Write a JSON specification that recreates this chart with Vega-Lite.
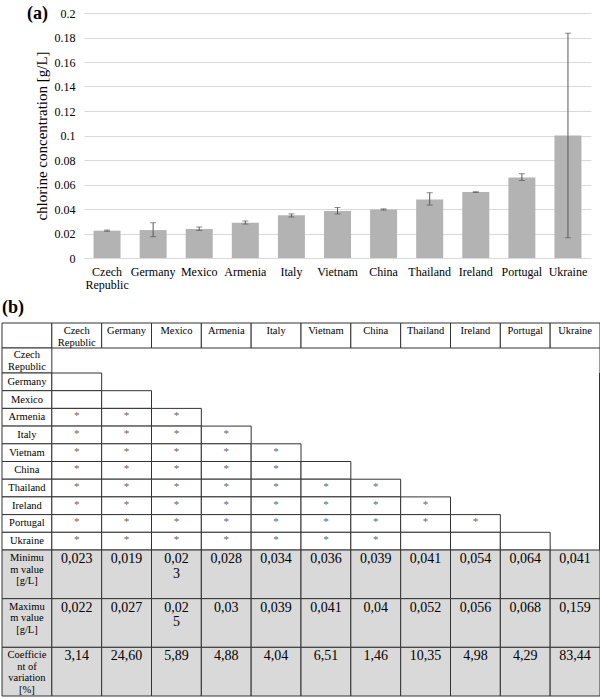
{
  "$schema": "https://vega.github.io/schema/vega-lite/v6.json",
  "padding": {"left": 1, "top": 5, "right": 1, "bottom": 1},
  "background": "#ffffff",
  "config": {
    "view": {"stroke": null},
    "font": "Liberation Serif",
    "text": {"font": "Liberation Serif"},
    "axis": {"labelFont": "Liberation Serif", "titleFont": "Liberation Serif"},
    "title": {"font": "Liberation Serif"}
  },
  "datasets": {
    "bars": [
      {"country": "Czech Republic", "concentration": 0.0223, "low": 0.0218, "high": 0.0228},
      {"country": "Germany", "concentration": 0.0228, "low": 0.0174, "high": 0.0288},
      {"country": "Mexico", "concentration": 0.0237, "low": 0.0225, "high": 0.0253},
      {"country": "Armenia", "concentration": 0.0288, "low": 0.0277, "high": 0.0302},
      {"country": "Italy", "concentration": 0.0348, "low": 0.0335, "high": 0.036},
      {"country": "Vietnam", "concentration": 0.0384, "low": 0.0359, "high": 0.0412},
      {"country": "China", "concentration": 0.0396, "low": 0.0391, "high": 0.0401},
      {"country": "Thailand", "concentration": 0.0478, "low": 0.0432, "high": 0.0533},
      {"country": "Ireland", "concentration": 0.0538, "low": 0.0535, "high": 0.0541},
      {"country": "Portugal", "concentration": 0.0658, "low": 0.0633, "high": 0.0688},
      {"country": "Ukraine", "concentration": 0.1, "low": 0.0165, "high": 0.1835}
    ],
    "header": [
      {"row": "header", "col": "label", "text": ""},
      {"row": "header", "col": "Czech Republic", "text": "Czech\nRepublic"},
      {"row": "header", "col": "Germany", "text": "Germany"},
      {"row": "header", "col": "Mexico", "text": "Mexico"},
      {"row": "header", "col": "Armenia", "text": "Armenia"},
      {"row": "header", "col": "Italy", "text": "Italy"},
      {"row": "header", "col": "Vietnam", "text": "Vietnam"},
      {"row": "header", "col": "China", "text": "China"},
      {"row": "header", "col": "Thailand", "text": "Thailand"},
      {"row": "header", "col": "Ireland", "text": "Ireland"},
      {"row": "header", "col": "Portugal", "text": "Portugal"},
      {"row": "header", "col": "Ukraine", "text": "Ukraine"}
    ],
    "czech": [
      {"row": "Czech Republic", "col": "label", "text": "Czech\nRepublic"}
    ],
    "matrix": [
      {"row": "Germany", "col": "label", "text": "Germany"},
      {"row": "Germany", "col": "Czech Republic", "text": ""},
      {"row": "Mexico", "col": "label", "text": "Mexico"},
      {"row": "Mexico", "col": "Czech Republic", "text": ""},
      {"row": "Mexico", "col": "Germany", "text": ""},
      {"row": "Armenia", "col": "label", "text": "Armenia"},
      {"row": "Armenia", "col": "Czech Republic", "text": "*"},
      {"row": "Armenia", "col": "Germany", "text": "*"},
      {"row": "Armenia", "col": "Mexico", "text": "*"},
      {"row": "Italy", "col": "label", "text": "Italy"},
      {"row": "Italy", "col": "Czech Republic", "text": "*"},
      {"row": "Italy", "col": "Germany", "text": "*"},
      {"row": "Italy", "col": "Mexico", "text": "*"},
      {"row": "Italy", "col": "Armenia", "text": "*"},
      {"row": "Vietnam", "col": "label", "text": "Vietnam"},
      {"row": "Vietnam", "col": "Czech Republic", "text": "*"},
      {"row": "Vietnam", "col": "Germany", "text": "*"},
      {"row": "Vietnam", "col": "Mexico", "text": "*"},
      {"row": "Vietnam", "col": "Armenia", "text": "*"},
      {"row": "Vietnam", "col": "Italy", "text": "*"},
      {"row": "China", "col": "label", "text": "China"},
      {"row": "China", "col": "Czech Republic", "text": "*"},
      {"row": "China", "col": "Germany", "text": "*"},
      {"row": "China", "col": "Mexico", "text": "*"},
      {"row": "China", "col": "Armenia", "text": "*"},
      {"row": "China", "col": "Italy", "text": "*"},
      {"row": "China", "col": "Vietnam", "text": ""},
      {"row": "Thailand", "col": "label", "text": "Thailand"},
      {"row": "Thailand", "col": "Czech Republic", "text": "*"},
      {"row": "Thailand", "col": "Germany", "text": "*"},
      {"row": "Thailand", "col": "Mexico", "text": "*"},
      {"row": "Thailand", "col": "Armenia", "text": "*"},
      {"row": "Thailand", "col": "Italy", "text": "*"},
      {"row": "Thailand", "col": "Vietnam", "text": "*"},
      {"row": "Thailand", "col": "China", "text": "*"},
      {"row": "Ireland", "col": "label", "text": "Ireland"},
      {"row": "Ireland", "col": "Czech Republic", "text": "*"},
      {"row": "Ireland", "col": "Germany", "text": "*"},
      {"row": "Ireland", "col": "Mexico", "text": "*"},
      {"row": "Ireland", "col": "Armenia", "text": "*"},
      {"row": "Ireland", "col": "Italy", "text": "*"},
      {"row": "Ireland", "col": "Vietnam", "text": "*"},
      {"row": "Ireland", "col": "China", "text": "*"},
      {"row": "Ireland", "col": "Thailand", "text": "*"},
      {"row": "Portugal", "col": "label", "text": "Portugal"},
      {"row": "Portugal", "col": "Czech Republic", "text": "*"},
      {"row": "Portugal", "col": "Germany", "text": "*"},
      {"row": "Portugal", "col": "Mexico", "text": "*"},
      {"row": "Portugal", "col": "Armenia", "text": "*"},
      {"row": "Portugal", "col": "Italy", "text": "*"},
      {"row": "Portugal", "col": "Vietnam", "text": "*"},
      {"row": "Portugal", "col": "China", "text": "*"},
      {"row": "Portugal", "col": "Thailand", "text": "*"},
      {"row": "Portugal", "col": "Ireland", "text": "*"},
      {"row": "Ukraine", "col": "label", "text": "Ukraine"},
      {"row": "Ukraine", "col": "Czech Republic", "text": "*"},
      {"row": "Ukraine", "col": "Germany", "text": "*"},
      {"row": "Ukraine", "col": "Mexico", "text": "*"},
      {"row": "Ukraine", "col": "Armenia", "text": "*"},
      {"row": "Ukraine", "col": "Italy", "text": "*"},
      {"row": "Ukraine", "col": "Vietnam", "text": "*"},
      {"row": "Ukraine", "col": "China", "text": "*"},
      {"row": "Ukraine", "col": "Thailand", "text": ""},
      {"row": "Ukraine", "col": "Ireland", "text": ""},
      {"row": "Ukraine", "col": "Portugal", "text": ""}
    ],
    "stats": [
      {"row": "Minimum value", "col": "label", "text": "Minimu\nm value\n[g/L]"},
      {"row": "Minimum value", "col": "Czech Republic", "text": "0,023"},
      {"row": "Minimum value", "col": "Germany", "text": "0,019"},
      {"row": "Minimum value", "col": "Mexico", "text": "0,02\n3"},
      {"row": "Minimum value", "col": "Armenia", "text": "0,028"},
      {"row": "Minimum value", "col": "Italy", "text": "0,034"},
      {"row": "Minimum value", "col": "Vietnam", "text": "0,036"},
      {"row": "Minimum value", "col": "China", "text": "0,039"},
      {"row": "Minimum value", "col": "Thailand", "text": "0,041"},
      {"row": "Minimum value", "col": "Ireland", "text": "0,054"},
      {"row": "Minimum value", "col": "Portugal", "text": "0,064"},
      {"row": "Minimum value", "col": "Ukraine", "text": "0,041"},
      {"row": "Maximum value", "col": "label", "text": "Maximu\nm value\n[g/L]"},
      {"row": "Maximum value", "col": "Czech Republic", "text": "0,022"},
      {"row": "Maximum value", "col": "Germany", "text": "0,027"},
      {"row": "Maximum value", "col": "Mexico", "text": "0,02\n5"},
      {"row": "Maximum value", "col": "Armenia", "text": "0,03"},
      {"row": "Maximum value", "col": "Italy", "text": "0,039"},
      {"row": "Maximum value", "col": "Vietnam", "text": "0,041"},
      {"row": "Maximum value", "col": "China", "text": "0,04"},
      {"row": "Maximum value", "col": "Thailand", "text": "0,052"},
      {"row": "Maximum value", "col": "Ireland", "text": "0,056"},
      {"row": "Maximum value", "col": "Portugal", "text": "0,068"},
      {"row": "Maximum value", "col": "Ukraine", "text": "0,159"},
      {"row": "Coefficient of variation", "col": "label", "text": "Coefficie\nnt of\nvariation\n[%]"},
      {"row": "Coefficient of variation", "col": "Czech Republic", "text": "3,14"},
      {"row": "Coefficient of variation", "col": "Germany", "text": "24,60"},
      {"row": "Coefficient of variation", "col": "Mexico", "text": "5,89"},
      {"row": "Coefficient of variation", "col": "Armenia", "text": "4,88"},
      {"row": "Coefficient of variation", "col": "Italy", "text": "4,04"},
      {"row": "Coefficient of variation", "col": "Vietnam", "text": "6,51"},
      {"row": "Coefficient of variation", "col": "China", "text": "1,46"},
      {"row": "Coefficient of variation", "col": "Thailand", "text": "10,35"},
      {"row": "Coefficient of variation", "col": "Ireland", "text": "4,98"},
      {"row": "Coefficient of variation", "col": "Portugal", "text": "4,29"},
      {"row": "Coefficient of variation", "col": "Ukraine", "text": "83,44"}
    ]
  },
  "resolve": {"scale": {"x": "independent", "y": "independent"}},
  "spacing": 8,
  "vconcat": [
    {
      "spacing": 0,
      "hconcat": [
        {
          "width": 25,
          "height": 10,
          "data": {"values": [{"k": 1}]},
          "mark": {"type": "point", "opacity": 0}
        },
        {
          "width": 507,
          "height": 245,
          "title": {"text": "(a)", "anchor": "start", "frame": "group", "fontSize": 18, "fontWeight": "bold", "color": "#000000", "dx": -57, "dy": 16, "offset": 0},
          "data": {"name": "bars"},
          "encoding": {
            "x": {
              "field": "country", "type": "nominal", "sort": null, "title": null,
              "scale": {"paddingInner": 0.414, "paddingOuter": 0.207},
              "axis": {"labelAngle": 0, "domain": false, "ticks": false, "labelPadding": 8, "labelFont": "Liberation Serif", "labelFontSize": 12, "labelColor": "#000000", "labelLineHeight": 13, "labelExpr": "split(datum.label, ' ')"}
            }
          },
          "layer": [
            {
              "mark": {"type": "bar", "color": "#b3b3b3"},
              "encoding": {
                "y": {
                  "field": "concentration", "type": "quantitative", "title": "chlorine concentration [g/L]",
                  "scale": {"domain": [0, 0.2]},
                  "axis": {"values": [0, 0.02, 0.04, 0.06, 0.08, 0.1, 0.12, 0.14, 0.16, 0.18, 0.2], "format": ".2~f", "labelOverlap": false, "gridColor": "#d9d9d9", "gridWidth": 1, "domain": false, "ticks": false, "labelFont": "Liberation Serif", "labelFontSize": 12, "labelColor": "#000000", "labelPadding": 9, "titleFont": "Liberation Serif", "titleFontSize": 15, "titleFontWeight": "normal", "titleColor": "#000000", "titlePadding": 5}
                }
              }
            },
            {
              "mark": {"type": "rule", "color": "#595959", "strokeWidth": 1},
              "encoding": {
                "y": {
                  "field": "low", "type": "quantitative", "title": "chlorine concentration [g/L]",
                  "axis": {"values": [0, 0.02, 0.04, 0.06, 0.08, 0.1, 0.12, 0.14, 0.16, 0.18, 0.2], "format": ".2~f", "labelOverlap": false, "gridColor": "#d9d9d9", "gridWidth": 1, "domain": false, "ticks": false, "labelFont": "Liberation Serif", "labelFontSize": 12, "labelColor": "#000000", "labelPadding": 9, "titleFont": "Liberation Serif", "titleFontSize": 15, "titleFontWeight": "normal", "titleColor": "#000000", "titlePadding": 5}
                },
                "y2": {"field": "high"}
              }
            },
            {
              "mark": {"type": "tick", "color": "#595959", "size": 6, "thickness": 1},
              "encoding": {
                "y": {
                  "field": "low", "type": "quantitative", "title": "chlorine concentration [g/L]",
                  "axis": {"values": [0, 0.02, 0.04, 0.06, 0.08, 0.1, 0.12, 0.14, 0.16, 0.18, 0.2], "format": ".2~f", "labelOverlap": false, "gridColor": "#d9d9d9", "gridWidth": 1, "domain": false, "ticks": false, "labelFont": "Liberation Serif", "labelFontSize": 12, "labelColor": "#000000", "labelPadding": 9, "titleFont": "Liberation Serif", "titleFontSize": 15, "titleFontWeight": "normal", "titleColor": "#000000", "titlePadding": 5}
                }
              }
            },
            {
              "mark": {"type": "tick", "color": "#595959", "size": 6, "thickness": 1},
              "encoding": {
                "y": {
                  "field": "high", "type": "quantitative", "title": "chlorine concentration [g/L]",
                  "axis": {"values": [0, 0.02, 0.04, 0.06, 0.08, 0.1, 0.12, 0.14, 0.16, 0.18, 0.2], "format": ".2~f", "labelOverlap": false, "gridColor": "#d9d9d9", "gridWidth": 1, "domain": false, "ticks": false, "labelFont": "Liberation Serif", "labelFontSize": 12, "labelColor": "#000000", "labelPadding": 9, "titleFont": "Liberation Serif", "titleFontSize": 15, "titleFontWeight": "normal", "titleColor": "#000000", "titlePadding": 5}
                }
              }
            }
          ]
        }
      ]
    },
    {
      "spacing": 0,
      "bounds": "flush",
      "resolve": {"scale": {"x": "independent", "y": "independent"}},
      "vconcat": [
        {
          "width": 598,
          "height": 25,
          "title": {"text": "(b)", "anchor": "start", "frame": "group", "fontSize": 18, "fontWeight": "bold", "color": "#000000", "offset": 6},
          "data": {"name": "header"},
          "layer": [
            {
              "mark": {"type": "rect", "fill": "#ffffff", "stroke": "#333333", "strokeWidth": 1},
              "encoding": {
                "x": {"field": "col", "type": "nominal", "axis": null, "scale": {"domain": ["label", "Czech Republic", "Germany", "Mexico", "Armenia", "Italy", "Vietnam", "China", "Thailand", "Ireland", "Portugal", "Ukraine"], "paddingInner": 0, "paddingOuter": 0}},
                "y": {"field": "row", "type": "nominal", "axis": null, "scale": {"domain": ["header"], "paddingInner": 0, "paddingOuter": 0}}
              }
            },
            {
              "mark": {"type": "text", "font": "Liberation Serif", "baseline": "top", "dy": 3, "fontSize": 10.5, "lineHeight": 11.5, "lineBreak": "\n", "color": "#000000"},
              "encoding": {
                "x": {"field": "col", "type": "nominal", "axis": null},
                "y": {"field": "row", "type": "nominal", "axis": null, "bandPosition": 0},
                "text": {"field": "text"}
              }
            }
          ]
        },
        {
          "width": 598,
          "height": 25,
          "data": {"name": "czech"},
          "layer": [
            {
              "mark": {"type": "rect", "fill": "#ffffff", "stroke": "#333333", "strokeWidth": 1},
              "encoding": {
                "x": {"field": "col", "type": "nominal", "axis": null, "scale": {"domain": ["label", "Czech Republic", "Germany", "Mexico", "Armenia", "Italy", "Vietnam", "China", "Thailand", "Ireland", "Portugal", "Ukraine"], "paddingInner": 0, "paddingOuter": 0}},
                "y": {"field": "row", "type": "nominal", "axis": null, "scale": {"domain": ["Czech Republic"], "paddingInner": 0, "paddingOuter": 0}}
              }
            },
            {
              "mark": {"type": "text", "font": "Liberation Serif", "baseline": "top", "dy": 2, "fontSize": 10.5, "lineHeight": 11.5, "lineBreak": "\n", "color": "#000000"},
              "encoding": {
                "x": {"field": "col", "type": "nominal", "axis": null},
                "y": {"field": "row", "type": "nominal", "axis": null, "bandPosition": 0},
                "text": {"field": "text"}
              }
            },
            {
              "mark": {"type": "rule", "color": "#333333", "strokeWidth": 1},
              "encoding": {"x": {"value": "width"}}
            }
          ]
        },
        {
          "width": 598,
          "height": 177,
          "data": {"name": "matrix"},
          "layer": [
            {
              "mark": {"type": "rect", "fill": "#ffffff", "stroke": "#333333", "strokeWidth": 1},
              "encoding": {
                "x": {"field": "col", "type": "nominal", "axis": null, "scale": {"domain": ["label", "Czech Republic", "Germany", "Mexico", "Armenia", "Italy", "Vietnam", "China", "Thailand", "Ireland", "Portugal", "Ukraine"], "paddingInner": 0, "paddingOuter": 0}},
                "y": {"field": "row", "type": "nominal", "axis": null, "scale": {"domain": ["Germany", "Mexico", "Armenia", "Italy", "Vietnam", "China", "Thailand", "Ireland", "Portugal", "Ukraine"], "paddingInner": 0, "paddingOuter": 0}}
              }
            },
            {
              "transform": [{"filter": "datum.col == 'label'"}],
              "mark": {"type": "text", "font": "Liberation Serif", "baseline": "middle", "fontSize": 10.5, "color": "#000000"},
              "encoding": {
                "x": {"field": "col", "type": "nominal", "axis": null},
                "y": {"field": "row", "type": "nominal", "axis": null},
                "text": {"field": "text"}
              }
            },
            {
              "transform": [{"filter": "datum.col != 'label'"}],
              "mark": {"type": "text", "font": "Liberation Serif", "baseline": "middle", "dy": -1, "fontSize": 11, "color": "#666666"},
              "encoding": {
                "x": {"field": "col", "type": "nominal", "axis": null},
                "y": {"field": "row", "type": "nominal", "axis": null},
                "text": {"field": "text"}
              }
            },
            {
              "mark": {"type": "rule", "color": "#333333", "strokeWidth": 1},
              "encoding": {"x": {"value": "width"}}
            }
          ]
        },
        {
          "width": 598,
          "height": 146,
          "data": {"name": "stats"},
          "layer": [
            {
              "mark": {"type": "rect", "fill": "#d9d9d9", "stroke": "#333333", "strokeWidth": 1},
              "encoding": {
                "x": {"field": "col", "type": "nominal", "axis": null, "scale": {"domain": ["label", "Czech Republic", "Germany", "Mexico", "Armenia", "Italy", "Vietnam", "China", "Thailand", "Ireland", "Portugal", "Ukraine"], "paddingInner": 0, "paddingOuter": 0}},
                "y": {"field": "row", "type": "nominal", "axis": null, "scale": {"domain": ["Minimum value", "Maximum value", "Coefficient of variation"], "paddingInner": 0, "paddingOuter": 0}}
              }
            },
            {
              "transform": [{"filter": "datum.col == 'label'"}],
              "mark": {"type": "text", "font": "Liberation Serif", "baseline": "top", "dy": 3, "fontSize": 10.5, "lineHeight": 11.5, "lineBreak": "\n", "color": "#000000"},
              "encoding": {
                "x": {"field": "col", "type": "nominal", "axis": null},
                "y": {"field": "row", "type": "nominal", "axis": null, "bandPosition": 0},
                "text": {"field": "text"}
              }
            },
            {
              "transform": [{"filter": "datum.col != 'label'"}],
              "mark": {"type": "text", "font": "Liberation Serif", "baseline": "top", "dy": 2, "fontSize": 14, "lineHeight": 14.5, "lineBreak": "\n", "color": "#000000"},
              "encoding": {
                "x": {"field": "col", "type": "nominal", "axis": null},
                "y": {"field": "row", "type": "nominal", "axis": null, "bandPosition": 0},
                "text": {"field": "text"}
              }
            }
          ]
        }
      ]
    }
  ]
}
